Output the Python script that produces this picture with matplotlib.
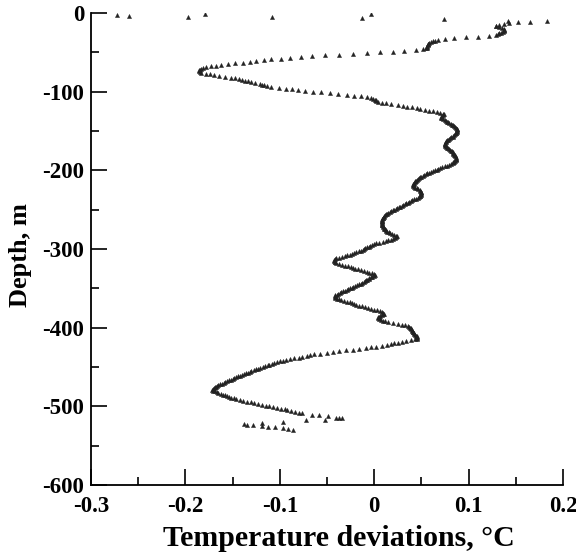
import numpy as np
import matplotlib
matplotlib.use("Agg")
import matplotlib.pyplot as plt
from matplotlib.ticker import MultipleLocator

# ---- data -----------------------------------------------------------------
# main profile: one reading per metre, depths 10 m .. 509 m
profile_depth_start = 10
profile_temp = [
    0.183, 0.165, 0.152, 0.143, 0.137, 0.132, 0.129, 0.129, 0.132, 0.135,   # 10-19
    0.137, 0.138, 0.138, 0.137, 0.136, 0.134, 0.132, 0.131, 0.129, 0.122,   # 20-29
    0.110, 0.097, 0.085, 0.075, 0.068, 0.064, 0.062, 0.060, 0.058, 0.057,   # 30-39
    0.057, 0.057, 0.056, 0.056, 0.056, 0.055, 0.052, 0.044, 0.032, 0.020,   # 40-49
    0.006, -0.008, -0.022, -0.037, -0.052, -0.066, -0.078, -0.089, -0.099, -0.109,  # 50-59
    -0.117, -0.125, -0.132, -0.139, -0.147, -0.155, -0.162, -0.168, -0.173, -0.178,  # 60-69
    -0.181, -0.183, -0.185, -0.186, -0.186, -0.185, -0.183, -0.178, -0.174, -0.170,  # 70-79
    -0.164, -0.158, -0.152, -0.147, -0.143, -0.140, -0.137, -0.134, -0.130, -0.126,  # 80-89
    -0.121, -0.119, -0.117, -0.114, -0.109, -0.101, -0.093, -0.087, -0.081, -0.073,  # 90-99
    -0.065, -0.056, -0.047, -0.038, -0.029, -0.021, -0.014, -0.008, -0.003, -0.001,  # 100-109
    0.001, 0.002, 0.002, 0.004, 0.008, 0.012, 0.018, 0.025, 0.030, 0.035,   # 110-119
    0.040, 0.045, 0.049, 0.054, 0.058, 0.062, 0.066, 0.070, 0.073, 0.074,   # 120-129
    0.073, 0.072, 0.071, 0.071, 0.072, 0.073, 0.075, 0.076, 0.077, 0.078,   # 130-139
    0.079, 0.081, 0.082, 0.084, 0.085, 0.086, 0.087, 0.088, 0.088, 0.088,   # 140-149
    0.088, 0.088, 0.087, 0.087, 0.086, 0.085, 0.084, 0.083, 0.081, 0.080,   # 150-159
    0.079, 0.078, 0.077, 0.076, 0.076, 0.075, 0.075, 0.075, 0.075, 0.075,   # 160-169
    0.076, 0.077, 0.078, 0.079, 0.080, 0.081, 0.082, 0.083, 0.083, 0.084,   # 170-179
    0.085, 0.086, 0.086, 0.087, 0.087, 0.087, 0.087, 0.087, 0.086, 0.085,   # 180-189
    0.084, 0.083, 0.081, 0.079, 0.077, 0.075, 0.072, 0.070, 0.068, 0.066,   # 190-199
    0.064, 0.062, 0.060, 0.058, 0.056, 0.055, 0.053, 0.052, 0.050, 0.049,   # 200-209
    0.047, 0.046, 0.045, 0.044, 0.043, 0.043, 0.042, 0.042, 0.041, 0.041,   # 210-219
    0.041, 0.042, 0.043, 0.045, 0.046, 0.048, 0.049, 0.050, 0.050, 0.050,   # 220-229
    0.050, 0.050, 0.049, 0.048, 0.047, 0.046, 0.044, 0.042, 0.040, 0.039,   # 230-239
    0.037, 0.036, 0.034, 0.033, 0.031, 0.029, 0.027, 0.026, 0.024, 0.023,   # 240-249
    0.021, 0.020, 0.018, 0.017, 0.015, 0.014, 0.012, 0.011, 0.010, 0.010,   # 250-259
    0.009, 0.009, 0.008, 0.008, 0.008, 0.008, 0.008, 0.008, 0.008, 0.008,   # 260-269
    0.008, 0.009, 0.009, 0.010, 0.010, 0.011, 0.012, 0.013, 0.014, 0.016,   # 270-279
    0.017, 0.019, 0.021, 0.023, 0.024, 0.023, 0.022, 0.020, 0.018, 0.015,   # 280-289
    0.012, 0.009, 0.005, 0.002, 0.000, -0.002, -0.004, -0.006, -0.008, -0.010,  # 290-299
    -0.011, -0.012, -0.014, -0.016, -0.019, -0.021, -0.024, -0.026, -0.029, -0.031,  # 300-309
    -0.034, -0.037, -0.040, -0.042, -0.043, -0.043, -0.042, -0.041, -0.040, -0.037,  # 310-319
    -0.034, -0.031, -0.028, -0.025, -0.022, -0.020, -0.017, -0.014, -0.011, -0.008,  # 320-329
    -0.005, -0.002, 0.000, 0.001, 0.000, -0.002, -0.003, -0.005, -0.006, -0.008,  # 330-339
    -0.009, -0.010, -0.011, -0.013, -0.014, -0.016, -0.018, -0.020, -0.022, -0.024,  # 340-349
    -0.026, -0.028, -0.029, -0.031, -0.033, -0.035, -0.036, -0.038, -0.039, -0.041,  # 350-359
    -0.042, -0.042, -0.041, -0.039, -0.037, -0.035, -0.032, -0.029, -0.026, -0.024,  # 360-369
    -0.021, -0.019, -0.016, -0.013, -0.010, -0.007, -0.003, 0.000, 0.003, 0.006,  # 370-379
    0.008, 0.009, 0.010, 0.009, 0.008, 0.006, 0.005, 0.004, 0.004, 0.005,   # 380-389
    0.007, 0.009, 0.011, 0.015, 0.020, 0.025, 0.029, 0.033, 0.036, 0.037,   # 390-399
    0.038, 0.039, 0.039, 0.040, 0.040, 0.041, 0.041, 0.042, 0.042, 0.043,   # 400-409
    0.044, 0.045, 0.045, 0.045, 0.045, 0.043, 0.039, 0.034, 0.029, 0.025,   # 410-419
    0.021, 0.018, 0.014, 0.008, 0.002, -0.003, -0.009, -0.016, -0.022, -0.030,  # 420-429
    -0.037, -0.044, -0.050, -0.057, -0.064, -0.068, -0.071, -0.076, -0.080, -0.085,  # 430-439
    -0.089, -0.093, -0.097, -0.100, -0.103, -0.106, -0.108, -0.111, -0.113, -0.116,  # 440-449
    -0.118, -0.121, -0.123, -0.125, -0.127, -0.130, -0.132, -0.134, -0.136, -0.138,  # 450-459
    -0.140, -0.142, -0.144, -0.146, -0.148, -0.150, -0.152, -0.154, -0.156, -0.158,  # 460-469
    -0.159, -0.161, -0.163, -0.165, -0.166, -0.168, -0.169, -0.170, -0.171, -0.172,  # 470-479
    -0.171, -0.169, -0.167, -0.165, -0.162, -0.160, -0.158, -0.156, -0.154, -0.152,  # 480-489
    -0.149, -0.146, -0.142, -0.139, -0.135, -0.131, -0.127, -0.123, -0.119, -0.115,  # 490-499
    -0.111, -0.107, -0.103, -0.099, -0.095, -0.092, -0.088, -0.084, -0.080, -0.076,  # 500-509
]

# scattered near-surface readings
surface_temp = [-0.272, -0.260, -0.197, -0.179, -0.108, -0.013, -0.003, 0.074, 0.142]
surface_depth = [-2.5, -3.4, -4.7, -1.3, -5.5, -6.7, -1.3, -7.6, -9.8]

# scattered near-bottom readings
bottom_temp = [-0.066, -0.058, -0.049, -0.040, -0.037, -0.034, -0.052, -0.072,
               -0.097, -0.119, -0.138, -0.135, -0.128, -0.119, -0.112, -0.105,
               -0.097, -0.091, -0.086]
bottom_depth = [-510.8, -510.8, -512.0, -514.2, -515.0, -515.0, -517.1, -518.0,
                -519.3, -520.6, -522.2, -523.1, -523.5, -524.8, -525.7, -526.5,
                -527.3, -528.2, -530.0]

x_ticks = [-0.3, -0.2, -0.1, 0, 0.1, 0.2]
x_tick_labels = ["-0.3", "-0.2", "-0.1", "0", "0.1", "0.2"]
y_ticks = [-600, -500, -400, -300, -200, -100, 0]
y_tick_labels = ["-600", "-500", "-400", "-300", "-200", "-100", "0"]

# ---- plot -----------------------------------------------------------------
plt.rcParams['font.family'] = ['Liberation Serif', 'DejaVu Serif']
plt.rcParams['font.weight'] = 'bold'

fig = plt.figure(figsize=(5.76, 5.54), dpi=100)
ax = fig.add_axes([91/576, 69/554, 472/576, 472/554])

profile_depth = -(profile_depth_start + np.arange(len(profile_temp)))
mk = dict(marker='^', linestyle='none', markersize=3.0, color='#222222',
          markeredgewidth=0.3, markeredgecolor='#222222')
ax.plot(profile_temp, profile_depth, **mk)
ax.plot(surface_temp, surface_depth, **mk)
ax.plot(bottom_temp, bottom_depth, **mk)

ax.set_xlim(-0.3, 0.2)
ax.set_ylim(-600, 0)
ax.spines['top'].set_visible(False)
ax.spines['right'].set_visible(False)
for s in ('left', 'bottom'):
    ax.spines[s].set_linewidth(1.3)
    ax.spines[s].set_clip_on(False)

ax.set_xticks(x_ticks)
ax.set_xticklabels(x_tick_labels)
ax.set_yticks(y_ticks)
ax.set_yticklabels(y_tick_labels)
ax.xaxis.set_minor_locator(MultipleLocator(0.05))
ax.yaxis.set_minor_locator(MultipleLocator(50))
ax.tick_params(which='major', direction='in', length=11.5, width=1.2,
               labelsize=16.5, top=False, right=False)
ax.tick_params(which='minor', direction='in', length=6, width=1.2,
               top=False, right=False)
ax.tick_params(axis='x', which='major', pad=8)
ax.tick_params(axis='y', which='major', pad=5)
for lab in ax.get_xticklabels() + ax.get_yticklabels():
    lab.set_fontweight('bold')

ax.set_xlabel("Temperature deviations, °C", fontsize=21.5, fontweight='bold')
ax.set_ylabel("Depth, m", fontsize=19, fontweight='bold')
ax.xaxis.set_label_coords(0.525, -0.085)
ax.yaxis.set_label_coords(-0.125, 0.487)

fig.savefig("out.png", dpi=100)
